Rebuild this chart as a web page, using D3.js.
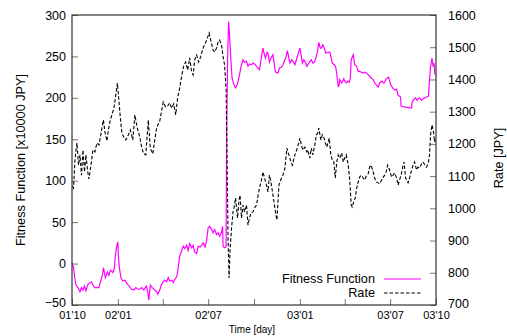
<!DOCTYPE html>
<html><head><meta charset="utf-8">
<script src="https://cdn.jsdelivr.net/npm/d3@7"></script>
<style>
body{margin:0;background:#fff;}
svg{display:block;font-family:"Liberation Sans",Arial,sans-serif;}
</style></head>
<body><svg id="c" width="507" height="336"></svg>
<script>
const rateDates = ["2001-10-02","2001-10-04","2001-10-07","2001-10-09","2001-10-11","2001-10-14","2001-10-17","2001-10-20","2001-10-23","2001-10-26","2001-10-29","2001-11-01","2001-11-04","2001-11-08","2001-11-12","2001-11-16","2001-11-20","2001-11-24","2001-11-27","2001-11-30","2001-12-03","2001-12-06","2001-12-10","2001-12-13","2001-12-16","2001-12-20","2001-12-24","2001-12-27","2001-12-31","2002-01-03","2002-01-06","2002-01-09","2002-01-13","2002-01-17","2002-01-22","2002-01-26","2002-01-31","2002-02-04","2002-02-09","2002-02-14","2002-02-18","2002-02-22","2002-02-26","2002-03-03","2002-03-07","2002-03-12","2002-03-16","2002-03-20","2002-03-26","2002-04-02","2002-04-07","2002-04-11","2002-04-15","2002-04-19","2002-04-23","2002-04-27","2002-05-01","2002-05-05","2002-05-09","2002-05-13","2002-05-17","2002-05-21","2002-05-25","2002-05-29","2002-06-01","2002-06-04","2002-06-08","2002-06-12","2002-06-16","2002-06-21","2002-06-24","2002-06-28","2002-07-03","2002-07-07","2002-07-11","2002-07-14","2002-07-18","2002-07-21","2002-07-24","2002-07-28","2002-07-31","2002-08-03","2002-08-06","2002-08-08","2002-08-10","2002-08-12","2002-08-14","2002-08-17","2002-08-20","2002-08-23","2002-08-25","2002-08-29","2002-09-01","2002-09-03","2002-09-06","2002-09-09","2002-09-12","2002-09-16","2002-09-19","2002-09-22","2002-09-25","2002-09-29","2002-10-02","2002-10-06","2002-10-09","2002-10-12","2002-10-16","2002-10-19","2002-10-22","2002-10-25","2002-10-29","2002-11-01","2002-11-04","2002-11-08","2002-11-11","2002-11-14","2002-11-16","2002-11-20","2002-11-25","2002-11-28","2002-12-02","2002-12-06","2002-12-10","2002-12-13","2002-12-17","2002-12-22","2002-12-27","2003-01-01","2003-01-04","2003-01-07","2003-01-11","2003-01-15","2003-01-17","2003-01-21","2003-01-24","2003-01-27","2003-01-31","2003-02-03","2003-02-06","2003-02-08","2003-02-12","2003-02-15","2003-02-18","2003-02-21","2003-02-24","2003-03-01","2003-03-04","2003-03-07","2003-03-10","2003-03-13","2003-03-16","2003-03-19","2003-03-22","2003-03-26","2003-03-29","2003-04-01","2003-04-04","2003-04-08","2003-04-11","2003-04-14","2003-04-16","2003-04-19","2003-04-22","2003-04-25","2003-04-28","2003-05-01","2003-05-04","2003-05-08","2003-05-11","2003-05-14","2003-05-18","2003-05-21","2003-05-24","2003-05-28","2003-05-31","2003-06-03","2003-06-07","2003-06-10","2003-06-13","2003-06-16","2003-06-20","2003-06-23","2003-06-26","2003-06-30","2003-07-04","2003-07-07","2003-07-10","2003-07-14","2003-07-17","2003-07-20","2003-07-24","2003-07-27","2003-07-29","2003-08-01","2003-08-06","2003-08-09","2003-08-13","2003-08-16","2003-08-19","2003-08-23","2003-08-26","2003-08-29","2003-09-02","2003-09-05","2003-09-09","2003-09-12","2003-09-16","2003-09-18","2003-09-20","2003-09-23","2003-09-26","2003-09-28","2003-09-30"];
const rateValues = [1069,1063,1150,1181,1203,1134,1166,1103,1181,1113,1166,1119,1091,1134,1181,1175,1203,1197,1221,1249,1274,1237,1209,1243,1268,1290,1311,1342,1389,1336,1280,1234,1221,1212,1228,1243,1212,1290,1249,1221,1187,1169,1166,1274,1187,1169,1212,1252,1271,1330,1314,1318,1327,1311,1324,1290,1345,1373,1411,1442,1454,1429,1467,1423,1414,1460,1476,1454,1470,1498,1507,1522,1544,1516,1491,1485,1498,1516,1522,1507,1470,1445,1373,1150,902,784,871,939,989,1010,1032,970,1026,1041,970,1010,989,1010,948,970,986,989,1001,1010,1038,1063,1088,1113,1094,1079,1051,1103,1082,1041,1010,979,964,1072,1094,1103,1125,1187,1166,1150,1134,1166,1187,1218,1197,1181,1190,1175,1181,1156,1187,1166,1197,1228,1234,1249,1212,1228,1221,1203,1190,1218,1166,1150,1144,1094,1144,1166,1156,1172,1144,1156,1166,1134,1088,1010,1004,1020,1032,1063,1082,1097,1103,1094,1088,1100,1107,1128,1134,1113,1094,1082,1079,1076,1085,1094,1103,1113,1134,1119,1097,1103,1110,1094,1072,1088,1110,1134,1144,1094,1079,1094,1119,1134,1144,1119,1128,1125,1138,1144,1134,1128,1144,1166,1228,1259,1237,1206,1221];

const fitDates = ["2001-10-01","2001-10-04","2001-10-06","2001-10-09","2001-10-13","2001-10-17","2001-10-20","2001-10-23","2001-10-26","2001-10-29","2001-11-02","2001-11-06","2001-11-09","2001-11-13","2001-11-16","2001-11-20","2001-11-24","2001-11-28","2001-12-01","2001-12-03","2001-12-07","2001-12-11","2001-12-14","2001-12-17","2001-12-22","2001-12-25","2001-12-27","2001-12-30","2002-01-01","2002-01-02","2002-01-04","2002-01-07","2002-01-11","2002-01-15","2002-01-18","2002-01-22","2002-01-25","2002-01-28","2002-02-02","2002-02-06","2002-02-10","2002-02-14","2002-02-18","2002-02-22","2002-02-27","2002-03-02","2002-03-04","2002-03-07","2002-03-11","2002-03-16","2002-03-20","2002-03-22","2002-03-26","2002-03-29","2002-04-02","2002-04-05","2002-04-09","2002-04-12","2002-04-15","2002-04-19","2002-04-22","2002-04-25","2002-04-29","2002-05-02","2002-05-05","2002-05-08","2002-05-12","2002-05-15","2002-05-19","2002-05-22","2002-05-25","2002-05-29","2002-06-01","2002-06-04","2002-06-08","2002-06-11","2002-06-15","2002-06-18","2002-06-21","2002-06-25","2002-06-28","2002-07-01","2002-07-04","2002-07-08","2002-07-11","2002-07-14","2002-07-18","2002-07-21","2002-07-24","2002-07-28","2002-07-30","2002-07-31","2002-08-03","2002-08-06","2002-08-07","2002-08-09","2002-08-11","2002-08-13","2002-08-15","2002-08-18","2002-08-21","2002-08-25","2002-08-29","2002-09-02","2002-09-05","2002-09-09","2002-09-12","2002-09-16","2002-09-19","2002-09-22","2002-09-26","2002-09-29","2002-10-02","2002-10-06","2002-10-09","2002-10-12","2002-10-15","2002-10-19","2002-10-22","2002-10-24","2002-10-27","2002-10-29","2002-11-01","2002-11-04","2002-11-08","2002-11-11","2002-11-13","2002-11-18","2002-11-21","2002-11-25","2002-11-28","2002-12-02","2002-12-04","2002-12-07","2002-12-10","2002-12-12","2002-12-16","2002-12-19","2002-12-22","2002-12-25","2002-12-28","2003-01-01","2003-01-04","2003-01-06","2003-01-09","2003-01-12","2003-01-15","2003-01-17","2003-01-21","2003-01-24","2003-01-27","2003-01-30","2003-02-02","2003-02-05","2003-02-08","2003-02-11","2003-02-13","2003-02-16","2003-02-20","2003-02-22","2003-02-26","2003-03-02","2003-03-05","2003-03-07","2003-03-11","2003-03-14","2003-03-17","2003-03-19","2003-03-21","2003-03-22","2003-03-26","2003-03-28","2003-03-30","2003-04-02","2003-04-04","2003-04-07","2003-04-10","2003-04-12","2003-04-14","2003-04-18","2003-04-21","2003-04-25","2003-04-28","2003-05-01","2003-05-04","2003-05-08","2003-05-11","2003-05-14","2003-05-18","2003-05-21","2003-05-24","2003-05-28","2003-05-31","2003-06-03","2003-06-07","2003-06-10","2003-06-12","2003-06-15","2003-06-18","2003-06-20","2003-06-23","2003-06-25","2003-06-28","2003-07-02","2003-07-06","2003-07-08","2003-07-11","2003-07-14","2003-07-17","2003-07-20","2003-07-22","2003-07-23","2003-07-27","2003-07-31","2003-08-03","2003-08-06","2003-08-09","2003-08-13","2003-08-14","2003-08-16","2003-08-19","2003-08-21","2003-08-24","2003-08-26","2003-08-29","2003-09-02","2003-09-05","2003-09-08","2003-09-12","2003-09-16","2003-09-17","2003-09-20","2003-09-23","2003-09-25","2003-09-27","2003-09-29"];
const fitValues = [1,-5,-15,-26,-29,-34,-29,-32,-27,-33,-25,-23,-22,-27,-29,-29,-29,-20,-14,-5,-17,-10,-14,-8,-11,-5,10,22,26,10,-5,-17,-21,-20,-23,-26,-28,-31,-32,-29,-31,-31,-29,-32,-27,-34,-44,-26,-29,-32,-34,-37,-32,-26,-22,-20,-22,-17,-21,-20,-23,-19,-16,-5,9,14,21,18,22,16,24,19,22,14,12,21,20,22,25,20,28,43,45,41,37,41,35,37,33,38,45,21,19,20,137,246,292,276,252,224,217,212,217,228,238,246,243,244,238,241,240,242,241,238,236,234,246,260,252,248,255,254,243,248,252,240,231,230,236,237,240,246,249,257,248,242,246,243,240,246,252,260,250,242,246,243,238,240,244,246,242,243,248,255,267,260,260,264,258,254,255,255,248,242,240,237,224,213,217,222,218,220,223,219,218,220,219,223,246,252,240,238,232,232,231,230,231,230,228,226,224,222,218,216,213,218,219,220,218,218.5,223,224,225,216,212,210.5,209.5,210.5,203,202,201,190,189,189,188.4,188.4,188,188,194,197,199,200,197,199,200,197,199,200,201,202,213,237,248,238,242,228];

const xTickDates = ["2001-10-01","2002-01-01","2002-04-01","2002-07-01","2002-10-01","2003-01-01","2003-04-01","2003-07-01","2003-10-01"];
const xTickLabels = ["01'10","02'01","","02'07","","03'01","","03'07","03'10"];
const leftTicks = [-50,0,50,100,150,200,250,300];
const rightTicks = [700,800,900,1000,1100,1200,1300,1400,1500,1600];
const seriesNames = ["Fitness Function","Rate"];

const parse = d3.utcParse("%Y-%m-%d");
const L = 72, R = 436, T = 15, B = 305;
const svg = d3.select("#c");
const x = d3.scaleUtc().domain([parse("2001-10-01"), parse("2003-10-01")]).range([L, R]);
const yL = d3.scaleLinear().domain([-50, 300]).range([B, T]);
const yR = d3.scaleLinear().domain([700, 1600]).range([B, T]);

const rate = rateDates.map((d, i) => ({d: parse(d), v: rateValues[i]}));
const fit = fitDates.map((d, i) => ({d: parse(d), v: fitValues[i]}));

// axes
const xt = xTickDates.map(parse);
const gx = svg.append("g").attr("transform", `translate(0,${B})`)
  .call(d3.axisBottom(x).tickValues(xt).tickSize(-6).tickPadding(6)
    .tickFormat((d, i) => xTickLabels[i]));
const gl = svg.append("g").attr("transform", `translate(${L},0)`)
  .call(d3.axisLeft(yL).tickValues(leftTicks).tickSize(-6).tickPadding(6).tickFormat(d3.format("d")));
const gr = svg.append("g").attr("transform", `translate(${R},0)`)
  .call(d3.axisRight(yR).tickValues(rightTicks).tickSize(-6).tickPadding(12).tickFormat(d3.format("d")));
[gx, gl, gr].forEach(g => {
  g.select(".domain").remove();
  g.selectAll(".tick line").attr("stroke", "#777");
  g.selectAll(".tick text").attr("fill", "#000").attr("font-family", "'Liberation Sans',Arial,sans-serif");
});
gx.selectAll(".tick text").attr("font-size", 11);
gl.selectAll(".tick text").attr("font-size", 12.5);
gr.selectAll(".tick text").attr("font-size", 12.5);
gl.selectAll(".tick text").filter(d => d === -50).attr("dy", "0.15em");
gr.selectAll(".tick text").filter(d => d === 700).attr("dy", "0.2em");

// lines
const lineR = d3.line().x(d => x(d.d)).y(d => yR(d.v));
const lineF = d3.line().x(d => x(d.d)).y(d => yL(d.v));
svg.append("path").datum(fit).attr("d", lineF).attr("fill", "none")
  .attr("stroke", "#ff00ff").attr("stroke-width", 1.2);
svg.append("path").datum(rate).attr("d", lineR).attr("fill", "none")
  .attr("stroke", "#000").attr("stroke-width", 1.1).attr("stroke-dasharray", "3.5,2");

// frame
svg.append("rect").attr("x", L).attr("y", T).attr("width", R - L).attr("height", B - T)
  .attr("fill", "none").attr("stroke", "#333").attr("stroke-width", 1.2);

// titles
svg.append("text").attr("transform", "translate(25,160) rotate(-90)")
  .attr("text-anchor", "middle").attr("font-size", 12.7).text("Fitness Function [x10000 JPY]");
svg.append("text").attr("transform", "translate(503,158) rotate(-90)")
  .attr("text-anchor", "middle").attr("font-size", 12.7).text("Rate [JPY]");
svg.append("text").attr("x", 252).attr("y", 333)
  .attr("text-anchor", "middle").attr("font-size", 10).text("Time [day]");

// legend
const lg = svg.append("g");
lg.append("text").attr("x", 375).attr("y", 283).attr("text-anchor", "end").attr("font-size", 12.7).text(seriesNames[0]);
lg.append("text").attr("x", 375).attr("y", 297).attr("text-anchor", "end").attr("font-size", 12.7).text(seriesNames[1]);
lg.append("line").attr("x1", 384).attr("x2", 421).attr("y1", 279).attr("y2", 279)
  .attr("stroke", "#ff00ff").attr("stroke-width", 1.2);
lg.append("line").attr("x1", 384).attr("x2", 421).attr("y1", 293).attr("y2", 293)
  .attr("stroke", "#000").attr("stroke-width", 1.1).attr("stroke-dasharray", "3.5,2");
</script></body></html>
